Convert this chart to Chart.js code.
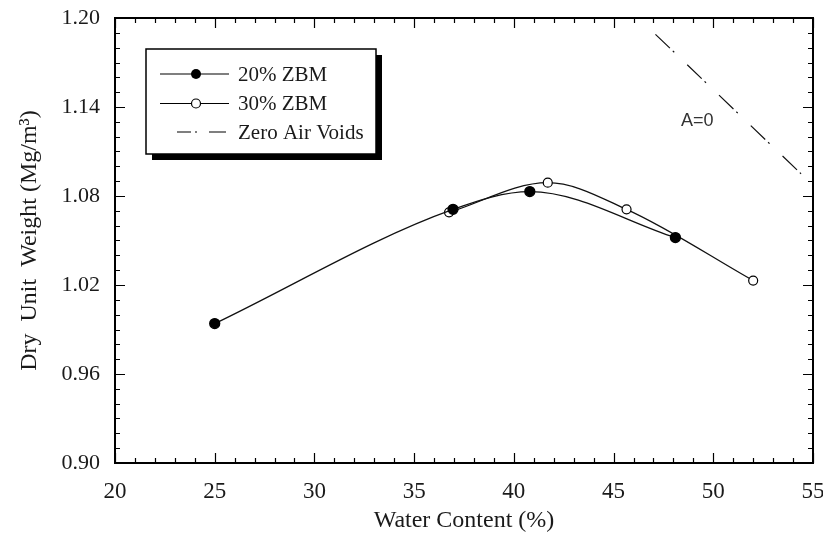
<!DOCTYPE html>
<html>
<head>
<meta charset="utf-8">
<script src="https://cdn.jsdelivr.net/npm/chart.js@4"></script>
<style>
  html, body { margin: 0; padding: 0; background: #fff; }
  #wrap { width: 823px; height: 535px; }
</style>
</head>
<body>
<div id="wrap"><canvas id="chart" width="823" height="535"></canvas></div>
<script>
// values
const zbm20X = [25.0, 36.95, 40.8, 48.1];
const zbm20Y = [0.994, 1.071, 1.083, 1.052];
const zbm30X = [36.75, 41.7, 45.65, 52.0];
const zbm30Y = [1.069, 1.089, 1.071, 1.023];
const zavX = [47.1, 54.4];
const zavY = [1.189, 1.095];

const xTicks = [20, 25, 30, 35, 40, 45, 50, 55];
const yTicks = [0.90, 0.96, 1.02, 1.08, 1.14, 1.20];
const legendLabels = ['20% ZBM', '30% ZBM', 'Zero Air Voids'];

const SERIF = '"Liberation Serif", "DejaVu Serif", serif';
const INK = '#1a1a1a';

function pts(xs, ys) {
  return xs.map(function(x, i) { return { x: x, y: ys[i] }; });
}

// inward major + minor ticks on all four sides, plus plot frame
const frameTicks = {
  id: 'frameTicks',
  afterDraw(chart) {
    const ctx = chart.ctx, a = chart.chartArea;
    const xs = chart.scales.x, ys = chart.scales.y;
    ctx.save();
    ctx.strokeStyle = '#000';
    ctx.lineWidth = 1.2;
    ctx.beginPath();
    for (let v = 20; v <= 55.001; v += 1) {
      const px = Math.round(xs.getPixelForValue(v)) + 0.5;
      const len = (Math.round(v) % 5 === 0) ? 10 : 5;
      ctx.moveTo(px, a.bottom); ctx.lineTo(px, a.bottom - len);
      ctx.moveTo(px, a.top); ctx.lineTo(px, a.top + len);
    }
    for (let i = 0; i <= 30; i++) {
      const v = 0.90 + i * 0.01;
      const py = Math.round(ys.getPixelForValue(v)) + 0.5;
      const len = (i % 6 === 0) ? 10 : 5;
      ctx.moveTo(a.left, py); ctx.lineTo(a.left + len, py);
      ctx.moveTo(a.right, py); ctx.lineTo(a.right - len, py);
    }
    ctx.stroke();
    ctx.lineWidth = 2;
    ctx.strokeRect(a.left, a.top, a.right - a.left, a.bottom - a.top);

    // A=0 label next to the zero air voids line
    ctx.fillStyle = '#333';
    ctx.font = '18px "Liberation Sans", Arial, sans-serif';
    ctx.textAlign = 'center';
    ctx.textBaseline = 'middle';
    ctx.fillText('A=0', xs.getPixelForValue(49.2), ys.getPixelForValue(1.1305));
    ctx.restore();
  }
};

// boxed legend with drop shadow
const boxLegend = {
  id: 'boxLegend',
  afterDraw(chart) {
    const ctx = chart.ctx;
    const L = 146, T = 49, W = 230, H = 105, sh = 6;
    ctx.save();
    ctx.fillStyle = '#000';
    ctx.fillRect(L + sh, T + sh, W, H);
    ctx.fillStyle = '#fff';
    ctx.fillRect(L, T, W, H);
    ctx.strokeStyle = '#000';
    ctx.lineWidth = 1.5;
    ctx.strokeRect(L, T, W, H);

    const rows = [74, 103.5, 132];
    ctx.lineWidth = 1.2;
    // 20% ZBM
    ctx.beginPath(); ctx.moveTo(160, rows[0]); ctx.lineTo(229, rows[0]); ctx.stroke();
    ctx.beginPath(); ctx.arc(196, rows[0], 5, 0, Math.PI * 2); ctx.fillStyle = '#000'; ctx.fill();
    // 30% ZBM
    ctx.beginPath(); ctx.moveTo(160, rows[1]); ctx.lineTo(229, rows[1]); ctx.stroke();
    ctx.beginPath(); ctx.arc(196, rows[1], 4.5, 0, Math.PI * 2); ctx.fillStyle = '#fff'; ctx.fill(); ctx.stroke();
    // zero air voids
    ctx.beginPath(); ctx.moveTo(177, rows[2]); ctx.lineTo(191, rows[2]);
    ctx.moveTo(195, rows[2]); ctx.lineTo(197, rows[2]);
    ctx.moveTo(209, rows[2]); ctx.lineTo(226, rows[2]); ctx.stroke();

    ctx.fillStyle = INK;
    ctx.font = '21px ' + SERIF;
    ctx.textAlign = 'left';
    ctx.textBaseline = 'middle';
    legendLabels.forEach(function(t, i) { ctx.fillText(t, 238, rows[i] + 1); });
    ctx.restore();
  }
};

new Chart(document.getElementById('chart'), {
  type: 'line',
  data: {
    datasets: [
      {
        label: legendLabels[0],
        data: pts(zbm20X, zbm20Y),
        borderColor: '#111',
        borderWidth: 1.3,
        backgroundColor: '#000',
        pointBackgroundColor: '#000',
        pointBorderColor: '#000',
        pointRadius: 5,
        cubicInterpolationMode: 'monotone'
      },
      {
        label: legendLabels[1],
        data: pts(zbm30X, zbm30Y),
        borderColor: '#111',
        borderWidth: 1.3,
        pointBackgroundColor: '#fff',
        pointBorderColor: '#000',
        pointBorderWidth: 1.2,
        pointRadius: 4.5,
        cubicInterpolationMode: 'monotone'
      },
      {
        label: legendLabels[2],
        data: pts(zavX, zavY),
        borderColor: '#111',
        borderWidth: 1.2,
        borderDash: [20, 4, 2, 18],
        pointRadius: 0,
        tension: 0
      }
    ]
  },
  options: {
    responsive: false,
    animation: false,
    layout: { autoPadding: false, padding: { top: 18, right: 10, left: 0, bottom: 0 } },
    plugins: { legend: { display: false }, tooltip: { enabled: false } },
    scales: {
      x: {
        type: 'linear',
        min: 20, max: 55,
        afterBuildTicks(s) { s.ticks = xTicks.map(function(v) { return { value: v }; }); },
        afterFit(s) { s.height = 72; s.paddingLeft = 0; s.paddingRight = 0; },
        grid: { display: false, drawTicks: false },
        border: { display: false },
        ticks: { color: INK, font: { family: SERIF, size: 23 }, padding: 15, maxRotation: 0 },
        title: { display: true, text: 'Water Content (%)', color: INK, font: { family: SERIF, size: 24 }, padding: { top: 0, bottom: 0 } }
      },
      y: {
        type: 'linear',
        min: 0.90, max: 1.20,
        afterBuildTicks(s) { s.ticks = yTicks.map(function(v) { return { value: v }; }); },
        afterFit(s) { s.width = 115; s.paddingTop = 0; s.paddingBottom = 0; },
        grid: { display: false, drawTicks: false },
        border: { display: false },
        ticks: {
          color: INK, font: { family: SERIF, size: 22 }, padding: 15,
          callback: function(v) { return Number(v).toFixed(2); }
        },
        title: { display: true, text: 'Dry  Unit  Weight (Mg/m³)', color: INK, font: { family: SERIF, size: 24 }, padding: { top: 15, bottom: 0 } }
      }
    }
  },
  plugins: [frameTicks, boxLegend]
});
</script>
</body>
</html>
